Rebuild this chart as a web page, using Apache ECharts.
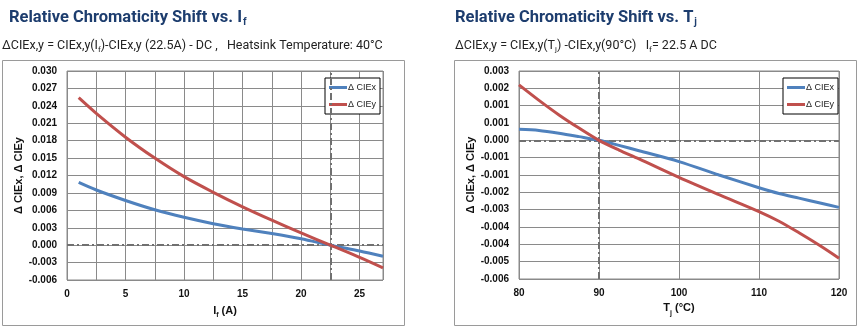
<!DOCTYPE html>
<html>
<head>
<meta charset="utf-8">
<script src="https://cdn.jsdelivr.net/npm/echarts@6/dist/echarts.min.js"></script>
<style>
  html, body { margin: 0; padding: 0; background: #fff; }
  #chart { width: 860px; height: 330px; }
</style>
</head>
<body>
<div id="chart"></div>
<script>
// Chromaticity shift vs. forward current (reference point 22.5 A)
const currentA = [1, 2.5, 5, 7.5, 10, 12.5, 15, 17.5, 20, 22.5, 25, 27];
const dCIExVsCurrent = [0.0108, 0.0095, 0.0077, 0.0061, 0.0048, 0.0037, 0.0028, 0.0020, 0.0011, 0.0, -0.0010, -0.0019];
const dCIEyVsCurrent = [0.0254, 0.0227, 0.0186, 0.0150, 0.0118, 0.0091, 0.0066, 0.0043, 0.0021, 0.0, -0.0021, -0.0039];

// Chromaticity shift vs. junction temperature (reference point 90 °C)
const junctionTempC = [80, 82.5, 85, 87.5, 90, 92.5, 95, 100, 105, 110, 112.5, 115, 117.5, 120];
const dCIExVsTemp = [0.00048, 0.00043, 0.00031, 0.00016, 0.0, -0.00022, -0.00045, -0.00092, -0.0015, -0.00205, -0.0023, -0.0025, -0.0027, -0.0029];
const dCIEyVsTemp = [0.0024, 0.00173, 0.0011, 0.00053, 0.0, -0.00042, -0.0008, -0.0016, -0.00235, -0.00308, -0.0035, -0.0040, -0.00453, -0.0051];

// Tick labels
const currentTickLabels = ['0', '5', '10', '15', '20', '25'];
const yTickLabelsCurrent = ['-0.006', '-0.003', '0.000', '0.003', '0.006', '0.009', '0.012', '0.015', '0.018', '0.021', '0.024', '0.027', '0.030'];
const tempTickLabels = ['80', '90', '100', '110', '120'];
const yTickLabelsTemp = ['-0.006', '-0.005', '-0.004', '-0.004', '-0.003', '-0.002', '-0.001', '-0.001', '0.000', '0.001', '0.001', '0.002', '0.003'];

const seriesNames = ['\u0394 CIEx', '\u0394 CIEy'];
const BLUE = '#4f81bd';
const RED = '#c0504d';
const GRID_GRAY = '#8a8a8a';
const TITLE_BLUE = '#1d3d6e';
const AXIS_FONT = '"Liberation Sans", Arial, sans-serif';
const TITLE_FONT = '"Roboto", "Liberation Sans", sans-serif';

function pairs(xs, ys) { return xs.map((x, i) => [x, ys[i]]); }

function tickLabelFrom(labels, min, step) {
  return function (v) {
    const idx = Math.round((v - min) / step);
    const onTick = Math.abs(v - (min + idx * step)) < step * 1e-6;
    return onTick && labels[idx] !== undefined ? labels[idx] : '';
  };
}

const titleRich = {
  m: { fontSize: 16.5, fontWeight: 'bold', color: TITLE_BLUE, fontFamily: TITLE_FONT, lineHeight: 22 },
  s: { fontSize: 10, fontWeight: 'bold', color: TITLE_BLUE, fontFamily: TITLE_FONT, verticalAlign: 'top', padding: [10, 0, 0, 1], lineHeight: 10 }
};
const subRich = {
  t: { fontSize: 12.5, fontWeight: 'normal', color: '#222', fontFamily: TITLE_FONT, lineHeight: 18 },
  s: { fontSize: 8, fontWeight: 'normal', color: '#222', fontFamily: TITLE_FONT, verticalAlign: 'top', padding: [9, 0, 0, 0], lineHeight: 8 }
};

function yAxisCfg(gridIndex, min, max, step, labels) {
  return {
    gridIndex, type: 'value', min, max, interval: step,
    name: '\u0394 CIEx, \u0394 CIEy', nameLocation: 'middle', nameRotate: 90, nameGap: 39,
    nameTextStyle: { fontSize: 11, fontWeight: 'bold', color: '#111', fontFamily: AXIS_FONT },
    axisLine: { show: false }, axisTick: { show: false },
    axisLabel: { fontSize: 10, fontWeight: 'bold', color: '#111', fontFamily: AXIS_FONT, margin: 10,
      formatter: tickLabelFrom(labels, min, step) },
    splitLine: { show: true, lineStyle: { color: GRID_GRAY, width: 1 } }
  };
}

function lineSeries(name, color, data, xi, yi) {
  return {
    name, type: 'line', xAxisIndex: xi, yAxisIndex: yi, data, smooth: 0.3,
    showSymbol: false, symbol: 'none', z: 5,
    lineStyle: { color, width: 3 }, itemStyle: { color }
  };
}

function refLines(xi, yi, xRef) {
  return {
    type: 'line', xAxisIndex: xi, yAxisIndex: yi, data: [], z: 3, silent: true,
    markLine: {
      silent: true, symbol: 'none', label: { show: false },
      lineStyle: { color: '#707070', width: 2, type: [7, 3, 2, 3] },
      data: [{ yAxis: 0 }, { xAxis: xRef }]
    }
  };
}

const legendBase = {
  orient: 'vertical', itemWidth: 18, itemHeight: 3, itemGap: 8,
  icon: 'rect', backgroundColor: '#fff', borderColor: '#000', borderWidth: 1,
  padding: [5, 4, 5, 4],
  textStyle: { fontSize: 9, color: '#222', fontFamily: AXIS_FONT, padding: [0, 0, 0, -4] },
  data: seriesNames
};

const axisNameRich = {
  t: { fontSize: 11, fontWeight: 'bold', color: '#111', fontFamily: AXIS_FONT },
  s: { fontSize: 7, fontWeight: 'bold', color: '#111', fontFamily: AXIS_FONT, verticalAlign: 'bottom', padding: [0, 0, -3, 0] }
};

const chart = echarts.init(document.getElementById('chart'), null, { renderer: 'canvas' });
chart.setOption({
  animation: false,
  backgroundColor: '#fff',
  title: [
    { left: 9, top: 7, padding: 0, text: '{m|Relative Chromaticity Shift vs. I}{s|f}', textStyle: { rich: titleRich } },
    { left: 2, top: 37, padding: 0, text: '{t|\u0394CIEx,y = CIEx,y(I}{s|f}{t|)-CIEx,y (22.5A) - DC ,   Heatsink Temperature: 40\u00b0C}', textStyle: { fontWeight: 'normal', rich: subRich } },
    { left: 455, top: 7, padding: 0, text: '{m|Relative Chromaticity Shift vs. T}{s|j}', textStyle: { rich: titleRich } },
    { left: 455, top: 37, padding: 0, text: '{t|\u0394CIEx,y = CIEx,y(T}{s|j}{t|) -CIEx,y(90\u00b0C)   I}{s|f}{t|= 22.5 A DC}', textStyle: { fontWeight: 'normal', rich: subRich } }
  ],
  graphic: [
    { type: 'rect', shape: { x: 2.5, y: 60.5, width: 402, height: 265 }, style: { fill: 'none', stroke: '#9a9a9a', lineWidth: 1 }, z: -1 },
    { type: 'rect', shape: { x: 454.5, y: 60.5, width: 402, height: 265 }, style: { fill: 'none', stroke: '#9a9a9a', lineWidth: 1 }, z: -1 }
  ],
  grid: [
    { left: 67, top: 71, width: 316, height: 209, show: true, borderColor: GRID_GRAY, borderWidth: 1, backgroundColor: '#fff' },
    { left: 519, top: 71, width: 320, height: 208, show: true, borderColor: GRID_GRAY, borderWidth: 1, backgroundColor: '#fff' }
  ],
  legend: [
    Object.assign({}, legendBase, { left: 325, top: 78 }),
    Object.assign({}, legendBase, { left: 783, top: 78 })
  ],
  xAxis: [
    {
      gridIndex: 0, type: 'value', min: 0, max: 27, interval: 2.5,
      name: '{t|I}{s|f}{t| (A)}', nameLocation: 'middle', nameGap: 25,
      nameTextStyle: { rich: axisNameRich },
      axisLine: { show: false }, axisTick: { show: false },
      axisLabel: { fontSize: 10, fontWeight: 'bold', color: '#111', fontFamily: AXIS_FONT, margin: 9, showMaxLabel: false,
        formatter: tickLabelFrom(currentTickLabels, 0, 5) },
      splitLine: { show: true, lineStyle: { color: GRID_GRAY, width: 1 } }
    },
    {
      gridIndex: 1, type: 'value', min: 80, max: 120, interval: 10,
      name: '{t|T}{s|j}{t| (\u00b0C)}', nameLocation: 'middle', nameGap: 19,
      nameTextStyle: { rich: axisNameRich },
      axisLine: { show: false }, axisTick: { show: false },
      axisLabel: { fontSize: 10, fontWeight: 'bold', color: '#111', fontFamily: AXIS_FONT, margin: 9,
        formatter: tickLabelFrom(tempTickLabels, 80, 10) },
      splitLine: { show: true, lineStyle: { color: GRID_GRAY, width: 1 } }
    }
  ],
  yAxis: [
    yAxisCfg(0, -0.006, 0.030, 0.003, yTickLabelsCurrent),
    yAxisCfg(1, -0.006, 0.003, 0.00075, yTickLabelsTemp)
  ],
  series: [
    refLines(0, 0, 22.5),
    lineSeries(seriesNames[0], BLUE, pairs(currentA, dCIExVsCurrent), 0, 0),
    lineSeries(seriesNames[1], RED, pairs(currentA, dCIEyVsCurrent), 0, 0),
    refLines(1, 1, 90),
    lineSeries(seriesNames[0], BLUE, pairs(junctionTempC, dCIExVsTemp), 1, 1),
    lineSeries(seriesNames[1], RED, pairs(junctionTempC, dCIEyVsTemp), 1, 1)
  ]
});
</script>
</body>
</html>
